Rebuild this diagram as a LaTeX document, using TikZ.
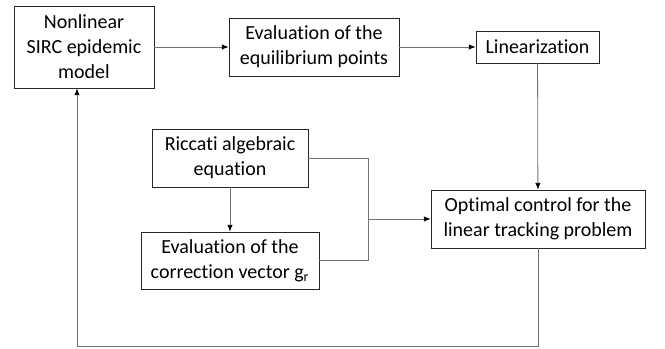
\documentclass[tikz,border=0pt]{standalone}
\usepackage{fontspec}
\setmainfont{Carlito}[Ligatures=NoCommon]
\usetikzlibrary{arrows.meta, positioning}
\tikzset{
  block/.style={draw=black!85, line width=0.65pt, align=center, inner sep=2pt,
    font=\fontsize{15}{18.75}\selectfont},
  link/.style={draw=black!55, line width=0.6pt},
  every picture/.style={>={Latex[length=5pt, width=4pt, color=black]}}
}
\begin{document}
\begin{tikzpicture}[x=0.75pt, y=-0.75pt]
        \useasboundingbox (0,0) rectangle (665,349);
        % Nodes
        \node[block, minimum width=140*0.75pt, minimum height=82*0.75pt] (model) at (84, 47) {Nonlinear\\SIRC epidemic\\model};
        \node[block, minimum width=170*0.75pt, minimum height=58*0.75pt] (equil) at (314, 47) {Evaluation of the\\equilibrium points};
        \node[block, minimum width=123*0.75pt, minimum height=32*0.75pt] (lin) at (537.5, 47) {Linearization};
        \node[block, minimum width=214*0.75pt, minimum height=58*0.75pt] (optim) at (538, 219) {Optimal control for the\\linear tracking problem};
        \node[block, minimum width=156*0.75pt, minimum height=58*0.75pt] (riccati) at (230, 158) {Riccati algebraic\\equation};
        \node[block, minimum width=178*0.75pt, minimum height=57*0.75pt] (corr) at (230, 260.5) {Evaluation of the\\correction vector g\textsubscript{r}};

        \coordinate (join) at (368, 219);
        \coordinate (down) at (optim.south |- 0, 346);
        \coordinate (back) at (77, 346);

        % Directed edges
        \draw[link, ->] (model) -- (equil);
        \draw[link, ->] (equil) -- (lin);
        \draw[link, ->] (lin) -- (optim);
        \draw[link, ->] (riccati) -- (corr);
        \draw[link] (riccati.east) -| (join);
        \draw[link] (corr.east) -| (join);
        \draw[link, ->] (join) -- (optim.west);
        \draw[link, ->] (optim.south) -- (down) -- (back) -- (back |- model.south);
    \end{tikzpicture}
\end{document}
